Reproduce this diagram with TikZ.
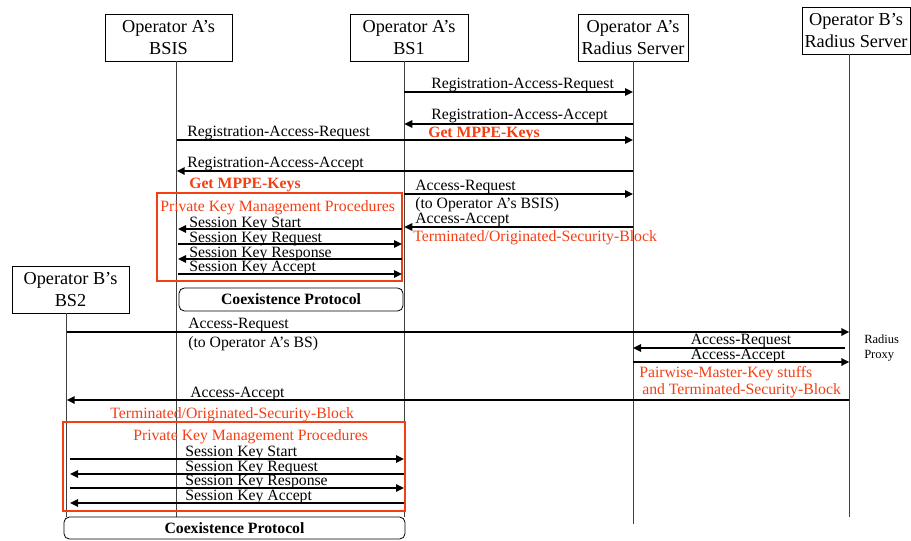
\documentclass[tikz,border=0pt]{standalone}
\usepackage{fontspec}
\setmainfont{Liberation Serif}
\usetikzlibrary{arrows.meta}
\definecolor{kred}{RGB}{244,62,20}
\begin{document}
\begin{tikzpicture}[x=0.75pt,y=-0.75pt,
  hdr/.style={draw, line width=0.6pt, minimum height=35.25pt, inner sep=0pt, align=center, font=\fontsize{13.7}{17}\selectfont},
  life/.style={line width=0.7pt, black!75},
  msg/.style={line width=1.5pt, -{Triangle[length=6pt,width=5.5pt]}},
  lbl/.style={anchor=base west, inner sep=0pt, font=\fontsize{11.8}{13}\selectfont},
  clbl/.style={lbl, anchor=base},
  rlbl/.style={lbl, text=kred},
  rblbl/.style={lbl, text=kred, font=\fontsize{11.8}{13}\selectfont\bfseries},
  small/.style={lbl, font=\fontsize{9.4}{11}\selectfont},
  redbox/.style={draw=kred, line width=2.2pt},
  coex/.style={draw, rounded corners=4pt, line width=0.6pt, inner sep=0pt, font=\fontsize{11.8}{13}\selectfont\bfseries}]
\useasboundingbox (0,0) rectangle (911,540);

% headers
\node[hdr, minimum width=95.25pt] (bsis) at (168.5,37.5) {Operator A’s\\BSIS};
\node[hdr, minimum width=88.5pt] (bs1) at (409,37.5) {Operator A’s\\BS1};
\node[hdr, minimum width=82.5pt] (ra) at (633,37.5) {Operator A’s\\Radius Server};
\node[hdr, minimum width=81pt] (rb) at (856,30.5) {Operator B’s\\Radius Server};
\node[hdr, minimum width=87.75pt] (bs2) at (70.5,289.5) {Operator B’s\\BS2};

% lifeline x positions
\coordinate (lBSIS) at (176.7,0);
\coordinate (lBS1) at (404.3,0);
\coordinate (lRA) at (633,0);
\coordinate (lRB) at (849.3,0);
\coordinate (lBS2) at (66.7,0);

\draw[life] (bsis.south -| lBSIS) -- (lBSIS |- 0,517);
\draw[life] (bs1.south -| lBS1) -- (lBS1 |- 0,517);
\draw[life] (ra.south -| lRA) -- (lRA |- 0,524);
\draw[life] (rb.south -| lRB) -- (lRB |- 0,517);
\draw[life] (bs2.south -| lBS2) -- (lBS2 |- 0,517);

% messages top
\draw[msg] (lBS1 |- 0,92) -- (lRA |- 0,92);
\node[lbl] (t1) at (431,88) {Registration-Access-Request};
\draw[msg] (lRA |- 0,124) -- (lBS1 |- 0,124);
\node[lbl] (t2) at (431,119) {Registration-Access-Accept};
\node[rblbl] (t3) at (428,137) {Get MPPE-Keys};
\draw[msg] (lBSIS |- 0,140) -- (lRA |- 0,140);
\node[lbl] (t4) at (187,136) {Registration-Access-Request};
\draw[msg] (lRA |- 0,171) -- (lBSIS |- 0,171);
\node[lbl] (t5) at (187,167) {Registration-Access-Accept};
\node[rblbl] (t6) at (189,188) {Get MPPE-Keys};
\draw[msg] (lBS1 |- 0,194) -- (lRA |- 0,194);
\node[lbl] (t7) at (415,190) {Access-Request};
\node[lbl] (t8) at (415,208) {(to Operator A’s BSIS)};
\draw[msg] (lRA |- 0,227) -- (lBS1 |- 0,227);
\node[lbl] (t9) at (415,223) {Access-Accept};
\node[rlbl] (t10) at (413,241) {Terminated/Originated-Security-Block};

% private key management top
\draw[redbox] (157,193) rectangle (402,281);
\node[rlbl] (t11) at (160,211) {Private Key Management Procedures};
\coordinate (pL) at (178,0);
\coordinate (pR) at (402,0);
\draw[msg] (pR |- 0,229) -- (pL |- 0,229);
\node[lbl] (s1) at (189,227) {Session Key Start};
\draw[msg] (pL |- 0,244) -- (pR |- 0,244);
\node[lbl] (s2) at (189,242) {Session Key Request};
\draw[msg] (pR |- 0,259) -- (pL |- 0,259);
\node[lbl] (s3) at (189,257) {Session Key Response};
\draw[msg] (pL |- 0,274) -- (pR |- 0,274);
\node[lbl] (s4) at (189,271) {Session Key Accept};

\node[coex, minimum width=168pt, minimum height=17.25pt] (cx1) at (291,299.5) {Coexistence Protocol};

% roaming
\draw[msg] (lBS2 |- 0,332) -- (lRB |- 0,332);
\node[lbl] (t12) at (188,328) {Access-Request};
\node[lbl] (t13) at (188,347) {(to Operator A’s BS)};
\node[small] (rp1) at (864,343) {Radius};
\node[small] (rp2) at (864,358) {Proxy};
\draw[msg] (845,348) -- (lRA |- 0,348);
\node[clbl] (t14) at (741,344) {Access-Request};
\draw[msg] (lRA |- 0,362) -- (lRB |- 0,362);
\node[clbl] (t15) at (738,359) {Access-Accept};
\node[rlbl] (t16) at (639,377) {Pairwise-Master-Key stuffs};
\node[rlbl] (t17) at (642,394) {and Terminated-Security-Block};
\draw[msg] (lRB |- 0,400) -- (lBS2 |- 0,400);
\node[lbl] (t18) at (190,397) {Access-Accept};
\node[rlbl] (t19) at (110,418) {Terminated/Originated-Security-Block};

% private key management bottom
\draw[redbox] (63,422) rectangle (405,511);
\node[rlbl] (t20) at (133,440) {Private Key Management Procedures};
\coordinate (qL) at (70,0);
\coordinate (qR) at (404,0);
\draw[msg] (qL |- 0,459) -- (qR |- 0,459);
\node[lbl] (s5) at (185,456) {Session Key Start};
\draw[msg] (qR |- 0,474) -- (qL |- 0,474);
\node[lbl] (s6) at (185,471) {Session Key Request};
\draw[msg] (qL |- 0,488) -- (qR |- 0,488);
\node[lbl] (s7) at (185,485) {Session Key Response};
\draw[msg] (qR |- 0,503) -- (qL |- 0,503);
\node[lbl] (s8) at (185,500) {Session Key Accept};

\node[coex, minimum width=255.75pt, minimum height=16.5pt] (cx2) at (234.5,528) {Coexistence Protocol};
\end{tikzpicture}
\end{document}
